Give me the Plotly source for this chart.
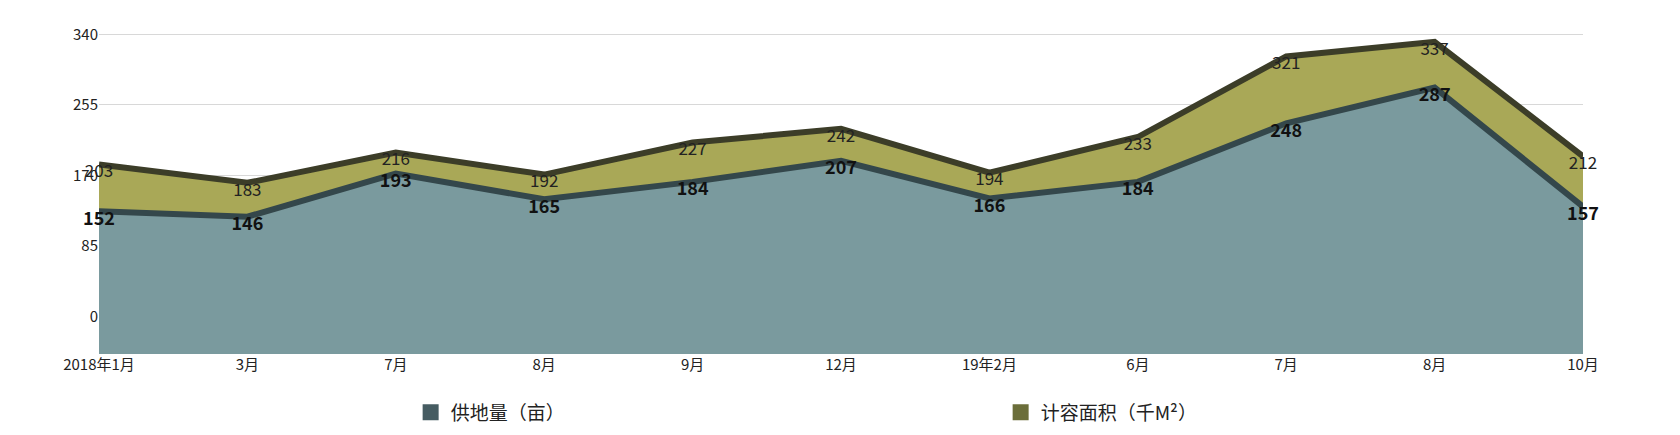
import plotly.graph_objects as go

categories = ["2018年1月","3月","7月","8月","9月","12月","19年2月","6月","7月","8月","10月"]
supply = [152,146,193,165,184,207,166,184,248,287,157]
area = [203,183,216,192,227,242,194,233,321,337,212]
yticks = [0,85,170,255,340]

x = list(range(len(categories)))
base = -4
fig = go.Figure()
fig.add_trace(go.Scatter(x=x, y=[base]*len(x), mode="lines", line=dict(width=0),
    yaxis="y2", showlegend=False, hoverinfo="skip"))
fig.add_trace(go.Scatter(x=x, y=area, mode="lines+text", fill="tonexty", yaxis="y2",
    fillcolor="#a9a857", line=dict(color="#3c3d28", width=6),
    text=[str(v) for v in area], textposition="bottom center", cliponaxis=False,
    textfont=dict(size=17, color="#222", family="Noto Sans CJK SC"),
    showlegend=False))
fig.add_trace(go.Scatter(x=x, y=[base]*len(x), mode="lines", line=dict(width=0),
    yaxis="y2", showlegend=False, hoverinfo="skip"))
fig.add_trace(go.Scatter(x=x, y=supply, mode="lines+text", fill="tonexty", yaxis="y2",
    fillcolor="#7a9a9e", line=dict(color="#34474b", width=6),
    text=[f"<b>{v}</b>" for v in supply], textposition="bottom center", cliponaxis=False,
    textfont=dict(size=18, color="#111", family="Noto Sans CJK SC"),
    showlegend=False))
fig.add_trace(go.Scatter(x=[None], y=[None], mode="markers",
    marker=dict(symbol="square", size=20, color="#465c62"), name="供地量（亩）"))
fig.add_trace(go.Scatter(x=[None], y=[None], mode="markers",
    marker=dict(symbol="square", size=20, color="#6b6e3a"), name="计容面积（千M²）"))

fig.update_layout(width=1680, height=435, paper_bgcolor="white", plot_bgcolor="white",
    margin=dict(l=91, r=105, t=21, b=87),
    font=dict(family="Noto Sans CJK SC", size=15, color="#222"),
    legend=dict(orientation="h", x=0.21, xanchor="left", y=-0.18, yanchor="middle",
                font=dict(size=19), entrywidth=545, traceorder="normal"),
    xaxis=dict(tickmode="array", tickvals=x, ticktext=categories, range=[0, 10],
               showgrid=False, zeroline=False, ticks="", tickfont=dict(size=15)),
    yaxis=dict(tickmode="array", tickvals=yticks, range=[-45, 346.4], showgrid=True,
               gridcolor="#d8d8d8", zeroline=False, tickfont=dict(size=15)),
    yaxis2=dict(overlaying="y", range=[-4, 351], visible=False))
fig.write_html("out.html")
